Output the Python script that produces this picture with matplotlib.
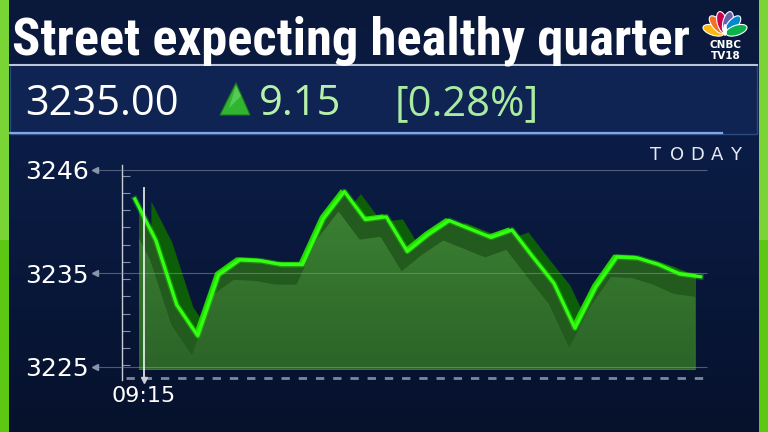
import matplotlib

matplotlib.use("Agg")
import matplotlib.pyplot as plt
import matplotlib.transforms as mtransforms
import numpy as np
from matplotlib import font_manager as fm
from matplotlib.colors import LinearSegmentedColormap
from matplotlib.patches import Ellipse, Polygon, Rectangle

TITLE = "Street expecting healthy quarter"
LAST = "3235.00"
CHANGE = "9.15"
CHANGE_PCT = "[0.28%]"
TIME_LABEL = "09:15"
Y_TICKS = [3225, 3235, 3246]
# intraday prices, one per step from 09:15
prices = [3242.9, 3238.5, 3231.6, 3228.3, 3234.8, 3236.4, 3236.3, 3235.9,
          3235.9, 3240.8, 3243.7, 3240.7, 3241.0, 3237.3, 3239.1, 3240.6,
          3239.7, 3238.8, 3239.6, 3236.7, 3233.9, 3229.1, 3233.5, 3236.7,
          3236.6, 3235.9, 3234.9, 3234.6]

W, H = 768, 432


def headline_font():
    # the on-air headline is a heavy condensed face; use one if installed
    pref = ["roboto", "liberation", "noto", "dejavu", "open", ""]
    found = []
    for f in fm.fontManager.ttflist:
        p = f.fname.lower().replace("-", "").replace("_", "")
        if "italic" in p or "oblique" in p or "semibold" in p:
            continue
        if "extracondensed" in p or "ultracondensed" in p:
            continue
        if ("condensed" in p or "narrow" in p) and "bold" in p:
            rank = next(i for i, k in enumerate(pref) if k in p)
            found.append((rank, "extrabold" in p, f.fname))
    if found:
        found.sort()
        return fm.FontProperties(fname=found[0][2])
    return fm.FontProperties(family="DejaVu Sans", weight="bold")


fig = plt.figure(figsize=(W / 100, H / 100), dpi=100)

# full-frame layer in pixel coords for the broadcast graphic bits
bg = fig.add_axes([0, 0, 1, 1])
bg_cmap = LinearSegmentedColormap.from_list(
    "bg", [(0, "#0a183a"), (0.33, "#0b1d46"), (1, "#06112c")])
bg.imshow(np.linspace(0, 1, 256)[:, None], extent=[0, W, H, 0], cmap=bg_cmap,
          aspect="auto", zorder=0)
bg.set_xlim(0, W)
bg.set_ylim(H, 0)
bg.axis("off")

# green side bars
for x0 in (0, 759):
    bg.add_patch(Rectangle((x0, 0), 9, H, color="#5cc814", lw=0, zorder=1))
    bg.add_patch(Rectangle((x0, 0), 9, 240, color="#78d535", lw=0, zorder=1.1))

# headline
title = bg.text(12, 55, TITLE, color="white", fontproperties=headline_font(),
                va="baseline", ha="left", zorder=5)
title.set_fontsize(36)

# price strip
bg.add_patch(Rectangle((10, 64), 747, 70, facecolor="#0f2452",
                       edgecolor="#2c4a7c", lw=1, zorder=2))
bg.plot([10, 757], [64.5, 64.5], color="#c0cadb", lw=1.4, zorder=3)
bg.plot([10, 722], [133, 133], color="#7fa8ea", lw=1.6, zorder=3)
bg.text(25, 115, LAST, color="white", fontsize=30, family="Open Sans",
        va="baseline", ha="left", zorder=5)
bg.add_patch(Polygon([(220, 115), (250, 115), (236, 83)], closed=True,
                     facecolor="#31b531", edgecolor="#1b7a1b", lw=0.8, zorder=5))
bg.add_patch(Polygon([(229, 108), (241, 96), (236, 86)], closed=True,
                     facecolor="#6fd96f", lw=0, alpha=0.6, zorder=5.1))
bg.text(259, 115, CHANGE, color="#b6f0aa", fontsize=30, family="Open Sans",
        va="baseline", ha="left", zorder=5)
bg.text(395, 115, CHANGE_PCT, color="#a9eca1", fontsize=30, family="Open Sans",
        va="baseline", ha="left", zorder=5)

# CNBC-TV18 bug
feather_cols = ["#fcb711", "#f37021", "#cc004c", "#6460aa", "#0089d0", "#0db14b"]
feather_ang = [162, 130, 104, 76, 50, 18]
for col, a in zip(feather_cols, feather_ang):
    r = np.radians(a)
    bg.add_patch(Ellipse((725 + 12 * np.cos(r), 34 - 12 * np.sin(r)), 22, 10,
                         angle=-a, facecolor=col, edgecolor="white", lw=0.8,
                         zorder=6))
bg.add_patch(Ellipse((725, 30), 4, 12, facecolor="white", lw=0, zorder=6.1))
bg.text(726, 45.5, "CNBC", color="white", fontsize=7.5, fontweight="bold",
        ha="center", va="center", zorder=6)
bg.text(726, 56, "TV18", color="white", fontsize=7.5, fontweight="bold",
        ha="center", va="center", zorder=6)

# TODAY, letter spaced
for ch, cx in zip("TODAY", [656, 677, 697, 717, 736]):
    bg.text(cx, 159.5, ch, color="#e6eaf1", fontsize=13, ha="center",
            va="baseline", zorder=5)

# dashed time axis
bg.hlines(378, 126, 708, colors="#7d869a", lw=2, linestyles=(0, (3, 3.2)),
          zorder=3)

# ---- price chart ----
ax = fig.add_axes([122 / W, 1 - 380 / H, (707 - 122) / W, (380 - 165) / H])
ax.patch.set_alpha(0)
x = np.arange(len(prices))


def shifted(dx, dy):
    # same data, nudged by a few pixels (for the extruded ribbon look)
    return ax.transData + mtransforms.ScaledTranslation(
        dx / 100, -dy / 100, fig.dpi_scale_trans)


clip = Rectangle((0.2, 3224.75), 26.52, 30, transform=ax.transData)
base = 3215
back = ax.fill_between(x, prices, base, color="#0c5e08", lw=0,
                       transform=shifted(16, 2), zorder=2)
lit = ax.fill_between(x, prices, base, color="#1fd400", lw=0,
                      transform=shifted(-4, -3), zorder=2.1)
mid = ax.fill_between(x, prices, base, color="#235a1d", lw=0, zorder=2.2)
front = ax.fill_between(x, prices, base, color="#357a2e", lw=0,
                        transform=shifted(-6, 20), zorder=2.3)
for coll in (back, lit, mid, front):
    coll.set_clip_path(clip)

fill_cmap = LinearSegmentedColormap.from_list("fill", ["#2c6428", "#3e8835"])
im = ax.imshow(np.linspace(0, 1, 256)[:, None],
               extent=[0.2, 26.72, 3224.75, 3246.5], origin="lower",
               cmap=fill_cmap, aspect="auto", zorder=2.35)
im.set_clip_path(front.get_paths()[0], front.get_transform())

ax.hlines(Y_TICKS, -0.046, 1.0, transform=ax.get_yaxis_transform(),
          colors="#8a94aa", lw=0.8, alpha=0.55, zorder=3, clip_on=False)
ax.plot([-0.046] * len(Y_TICKS), Y_TICKS, marker="<", ms=5, ls="none",
        color="#8a94aa", transform=ax.get_yaxis_transform(), clip_on=False)

ax.plot(x, prices, color="#2bff0a", lw=4.2, alpha=0.3, zorder=4)
ax.plot(x, prices, color="#33ff11", lw=2.3, zorder=4.1)

ax.axvline(0.43, ymin=0.01, ymax=0.893, color="white", lw=1.4, alpha=0.8,
           zorder=5)
ax.plot([0.43], [0], marker="v", ms=5, color="#c8cdd8", clip_on=False,
        transform=ax.get_xaxis_transform(), zorder=5)

ax.set_xlim(-0.615, 27.3)
ax.set_ylim(3223.58, 3246.53)
for side in ("top", "right", "bottom"):
    ax.spines[side].set_visible(False)
ax.spines["left"].set_color("#c8cdd8")
ax.spines["left"].set_linewidth(1)

ax.set_yticks(Y_TICKS)
ax.set_yticklabels([str(v) for v in Y_TICKS])
ax.set_yticks(np.linspace(3245.4, 3225.15, 12), minor=True)
ax.tick_params(axis="y", which="major", length=0, pad=24, labelsize=18,
               labelcolor="white")
ax.tick_params(axis="y", which="minor", direction="in", length=6, width=0.8,
               color="#8a92a6")
ax.set_xticks([0.43])
ax.set_xticklabels([TIME_LABEL])
ax.tick_params(axis="x", length=0, pad=4, labelsize=16, labelcolor="white")

# fit the headline to the width it takes on air
fig.canvas.draw()
bb = title.get_window_extent()
title.set_fontsize(title.get_fontsize() * 678 / bb.width)

fig.savefig("out.png", dpi=100)
